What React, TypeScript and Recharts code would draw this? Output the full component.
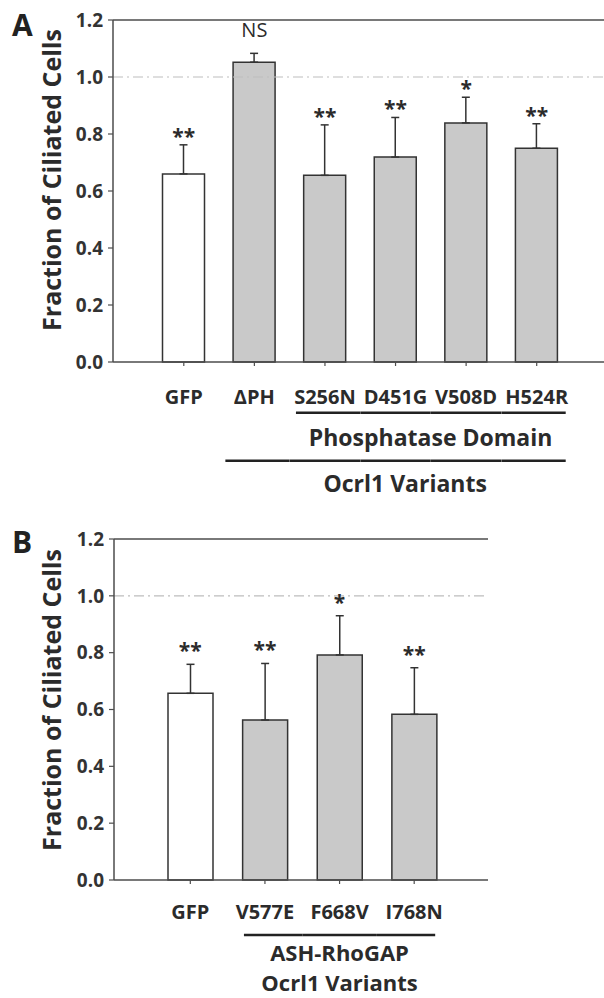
import { ComposedChart, Bar, Cell, ErrorBar, Line, LabelList, XAxis, YAxis, ReferenceLine } from "recharts";

// panel A: phosphatase-domain variants
const categoriesA = ["GFP", "ΔPH", "S256N", "D451G", "V508D", "H524R"];
const fractionA = [0.66, 1.052, 0.655, 0.719, 0.839, 0.75];
const errorA = [0.102, 0.031, 0.177, 0.139, 0.09, 0.086];
const signifA = ["**", "NS", "**", "**", "*", "**"];
const groupsA = [
  { from: 2, to: 5, lines: ["Phosphatase Domain"] },
  { from: 1, to: 5, lines: ["Ocrl1 Variants"] },
];

// panel B: ASH-RhoGAP variants
const categoriesB = ["GFP", "V577E", "F668V", "I768N"];
const fractionB = [0.657, 0.563, 0.792, 0.583];
const errorB = [0.102, 0.199, 0.138, 0.164];
const signifB = ["**", "**", "*", "**"];
const groupsB = [{ from: 1, to: 3, lines: ["ASH-RhoGAP", "Ocrl1 Variants"] }];

const yTicks = [0, 0.2, 0.4, 0.6, 0.8, 1.0, 1.2];
const control = "GFP";

const FONT = "'Open Sans', sans-serif";
const INK = "#2b2b2b";
const AXIS = "#4d4d4d";
const TICK = 4;

const build = (cats: string[], vals: number[], errs: number[], sig: string[]) =>
  cats.map((name, i) => ({ name, value: vals[i], err: [0, errs[i]], top: vals[i] + errs[i], sig: sig[i] }));

const dataA = build(categoriesA, fractionA, errorA, signifA);
const dataB = build(categoriesB, fractionB, errorB, signifB);

// significance marks sit a few px above the error-bar cap
const makeSig = (gap: number) => (props: any) => {
  const { x, y, value } = props;
  if (value == null) return null;
  const ns = value === "NS";
  return (
    <text
      x={x}
      y={ns ? y - gap - 2 : y - gap + 13}
      textAnchor="middle"
      fontFamily={FONT}
      fontSize={ns ? 20 : 21}
      fontWeight={ns ? 400 : 700}
      fill={INK}
    >
      {value}
    </text>
  );
};

type Group = { from: number; to: number; lines: string[] };
type Row = { rule: number; text: number[]; shift: number };
type TickLayout = { band: number; label: number; ext: number; groupFont: number; rows: Row[] };

const makeTick = (groups: Group[], lay: TickLayout) => (props: any) => {
  const { x, y, payload, index } = props;
  const y0 = y - TICK;
  return (
    <g>
      <text x={x} y={y0 + lay.label + 7} textAnchor="middle" fontFamily={FONT} fontSize={20} fontWeight={700} fill={INK}>
        {payload.value}
      </text>
      {groups.map((g, gi) => {
        if (index < g.from || index > g.to) return null;
        const row = lay.rows[gi];
        const x1 = index === g.from ? x - lay.ext : x - lay.band / 2;
        const x2 = index === g.to ? x + lay.ext : x + lay.band / 2;
        const cx = x + ((g.to - g.from) * lay.band) / 2 + row.shift;
        return (
          <g key={gi}>
            <line x1={x1} x2={x2} y1={y0 + row.rule} y2={y0 + row.rule} stroke="#222" strokeWidth={2.5} />
            {index === g.from &&
              g.lines.map((t, li) => (
                <text
                  key={li}
                  x={cx}
                  y={y0 + row.text[li] + lay.groupFont * 0.357}
                  textAnchor="middle"
                  fontFamily={FONT}
                  fontSize={lay.groupFont}
                  fontWeight={700}
                  fill={INK}
                >
                  {t}
                </text>
              ))}
          </g>
        );
      })}
    </g>
  );
};

function Panel(p: {
  letter: string;
  data: any[];
  groups: Group[];
  width: number;
  height: number;
  margin: { top: number; right: number; bottom: number; left: number };
  yWidth: number;
  xHeight: number;
  pad: { left: number; right: number };
  barSize: number;
  lay: TickLayout;
  sigGap: number;
  titleY: number;
  letterY: number;
}) {
  return (
    <div style={{ position: "relative", width: 604, height: p.height }}>
      <ComposedChart width={p.width} height={p.height} data={p.data} margin={p.margin}>
        <XAxis
          dataKey="name"
          interval={0}
          padding={p.pad}
          height={p.xHeight}
          tickSize={TICK}
          tickMargin={0}
          axisLine={{ stroke: AXIS, strokeWidth: 1.5 }}
          tickLine={{ stroke: AXIS, strokeWidth: 1.2 }}
          tick={makeTick(p.groups, p.lay)}
        />
        <YAxis
          domain={[0, 1.2]}
          ticks={yTicks}
          width={p.yWidth}
          tickSize={5}
          tickMargin={5}
          tickFormatter={(v: number) => v.toFixed(1)}
          axisLine={{ stroke: AXIS, strokeWidth: 1.5 }}
          tickLine={{ stroke: AXIS, strokeWidth: 1.2 }}
          tick={{ fontFamily: FONT, fontSize: 19, fontWeight: 700, fill: "#333" }}
        />
        <YAxis
          yAxisId="r"
          orientation="right"
          domain={[0, 1.2]}
          width={0}
          tick={false}
          tickLine={false}
          axisLine={{ stroke: AXIS, strokeWidth: 1.5 }}
        />
        <ReferenceLine y={1.2} stroke={AXIS} strokeWidth={1.5} />
        <ReferenceLine y={1.0} stroke="#bdbdbd" strokeWidth={1.2} strokeDasharray="10 4 2 4" />
        <Bar dataKey="value" barSize={p.barSize} stroke="#333" strokeWidth={1.5} isAnimationActive={false}>
          {p.data.map((d) => (
            <Cell key={d.name} fill={d.name === control ? "#ffffff" : "#c9c9c9"} />
          ))}
          <ErrorBar dataKey="err" width={4} stroke="#333" strokeWidth={1.5} direction="y" />
        </Bar>
        <Line dataKey="top" stroke="none" dot={false} activeDot={false} legendType="none" isAnimationActive={false}>
          <LabelList dataKey="sig" content={makeSig(p.sigGap)} />
        </Line>
      </ComposedChart>
      <svg
        width={604}
        height={p.height + 20}
        style={{ position: "absolute", left: 0, top: -20, pointerEvents: "none", overflow: "visible" }}
      >
        <text x={12} y={p.letterY + 20} fontFamily={FONT} fontSize={30} fontWeight={700} fill="#222">
          {p.letter}
        </text>
        <text
          x={61}
          y={p.titleY + 20}
          transform={`rotate(-90 61 ${p.titleY + 20})`}
          textAnchor="middle"
          fontFamily={FONT}
          fontSize={25}
          fontWeight={700}
          fill="#2b2b2b"
        >
          Fraction of Ciliated Cells
        </text>
      </svg>
    </div>
  );
}

export default function App() {
  return (
    <div style={{ position: "absolute", left: 0, top: 0, width: 604, height: 998, overflow: "hidden", background: "#fff" }}>
      <Panel
        letter="A"
        data={dataA}
        groups={groupsA}
        width={610}
        height={525}
        margin={{ top: 20, right: 2.5, bottom: 0, left: 0 }}
        yWidth={113}
        xHeight={163}
        pad={{ left: 35.5, right: 35.5 }}
        barSize={42}
        lay={{
          band: 70.4,
          label: 35,
          ext: 29,
          groupFont: 23,
          rows: [
            { rule: 50.7, text: [76], shift: 0 },
            { rule: 98.7, text: [122], shift: 10 },
          ],
        }}
        sigGap={14}
        titleY={180}
        letterY={36}
      />
      <Panel
        letter="B"
        data={dataB}
        groups={groupsB}
        width={604}
        height={473}
        margin={{ top: 14, right: 116, bottom: 0, left: 0 }}
        yWidth={114}
        xHeight={118}
        pad={{ left: 39, right: 36.5 }}
        barSize={45}
        lay={{
          band: 74.6,
          label: 31.7,
          ext: 21,
          groupFont: 22,
          rows: [{ rule: 55, text: [73, 103], shift: 0 }],
        }}
        sigGap={19}
        titleY={175}
        letterY={28}
      />
    </div>
  );
}
